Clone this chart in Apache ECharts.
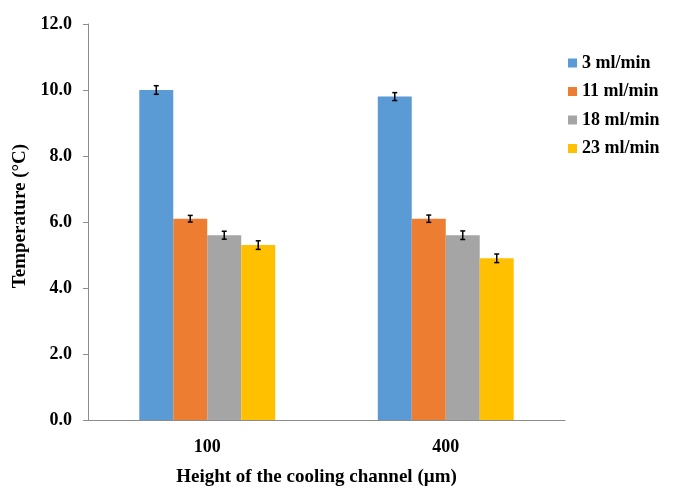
<!DOCTYPE html>
<html><head><meta charset="utf-8">
<script src="https://cdn.jsdelivr.net/npm/echarts@6/dist/echarts.min.js"></script>
<style>html,body{margin:0;padding:0;background:#fff}#c{width:678px;height:492px}</style>
</head><body><div id="c"></div>
<script>
const categories = ['100', '400'];
const seriesNames = ['3 ml/min', '11 ml/min', '18 ml/min', '23 ml/min'];
const flow3 = [10.0, 9.8];
const flow11 = [6.1, 6.1];
const flow18 = [5.6, 5.6];
const flow23 = [5.3, 4.9];
const err3 = [0.13, 0.12];
const err11 = [0.1, 0.11];
const err18 = [0.12, 0.13];
const err23 = [0.13, 0.13];
const yTicks = [0, 2, 4, 6, 8, 10, 12];

const colors = ['#5B9BD5', '#ED7D31', '#A5A5A5', '#FFC000'];
const values = [flow3, flow11, flow18, flow23];
const errs = [err3, err11, err18, err23];
const BW = 0.1425;
const font = 'Liberation Serif';

const series = [];
values.forEach((v, i) => {
  series.push({
    name: seriesNames[i], type: 'bar', data: v, barWidth: (BW * 100) + '%', barGap: '0%',
    itemStyle: { color: colors[i] }
  });
});
values.forEach((v, i) => {
  series.push({
    type: 'custom', z: 10, silent: true,
    data: v.map((val, k) => [k, val - errs[i][k], val + errs[i][k]]),
    renderItem: function (params, api) {
      const band = api.size([1, 0])[0];
      const w = band * BW;
      const off = (i - 1.5) * w;
      const lo = api.coord([api.value(0), api.value(1)]);
      const hi = api.coord([api.value(0), api.value(2)]);
      const x = lo[0] + off;
      const cap = 2.5;
      const st = { stroke: '#000', lineWidth: 1.5 };
      return { type: 'group', children: [
        { type: 'line', shape: { x1: x, y1: lo[1], x2: x, y2: hi[1] }, style: st },
        { type: 'line', shape: { x1: x - cap, y1: lo[1], x2: x + cap, y2: lo[1] }, style: st },
        { type: 'line', shape: { x1: x - cap, y1: hi[1], x2: x + cap, y2: hi[1] }, style: st }
      ]};
    }
  });
});

const chart = echarts.init(document.getElementById('c'));
chart.setOption({
  animation: false,
  textStyle: { fontFamily: font },
  grid: { left: 88, right: 113, top: 24, bottom: 68, containLabel: false },
  legend: {
    data: seriesNames, orient: 'vertical', left: 563, top: 49, itemWidth: 9, itemHeight: 9,
    itemGap: 10.5, icon: 'rect',
    textStyle: { fontFamily: font, fontWeight: 'bold', fontSize: 18, color: '#000' }
  },
  xAxis: {
    type: 'category', data: categories,
    axisLine: { lineStyle: { color: '#8c8c8c', width: 1 } },
    axisTick: { show: false },
    axisLabel: { fontFamily: font, fontWeight: 'bold', fontSize: 18, color: '#000', margin: 18 },
    name: 'Height of the cooling channel (µm)', nameLocation: 'middle', nameGap: 48,
    nameTextStyle: { fontFamily: font, fontWeight: 'bold', fontSize: 19, color: '#000', padding: [0, 20, 0, 0] }
  },
  yAxis: {
    type: 'value', min: yTicks[0], max: yTicks[yTicks.length - 1], interval: 2,
    axisLine: { show: true, lineStyle: { color: '#8c8c8c', width: 1 } },
    axisTick: { show: true, length: 5, lineStyle: { color: '#8c8c8c' } },
    splitLine: { show: false },
    axisLabel: { fontFamily: font, fontWeight: 'bold', fontSize: 18, color: '#000', margin: 16,
      formatter: v => v.toFixed(1) },
    name: 'Temperature (°C)', nameLocation: 'middle', nameGap: 57, nameRotate: 90,
    nameTextStyle: { fontFamily: font, fontWeight: 'bold', fontSize: 19, color: '#000', padding: [0, 0, 0, 12] }
  },
  series: series
});
</script></body></html>
